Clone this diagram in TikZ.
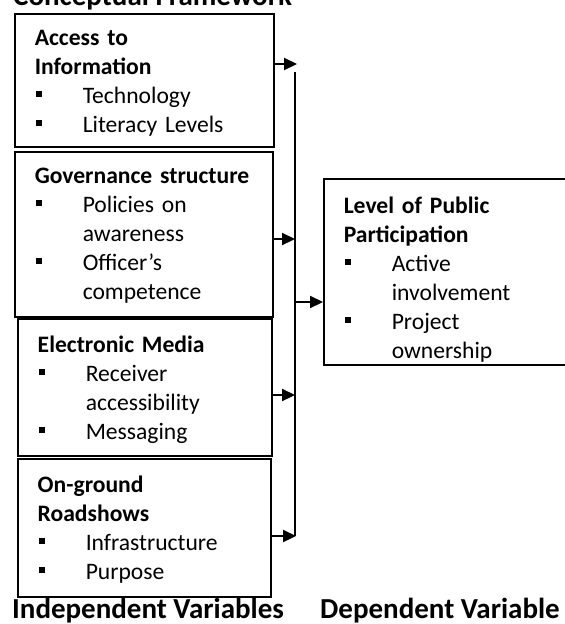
\documentclass[tikz,border=0pt]{standalone}
\usepackage{fontspec}
\setmainfont{Carlito}
\usetikzlibrary{arrows.meta, positioning}

% square bullet with a hanging indent for wrapped items
\newcommand{\bitem}[1]{\par\hangindent=48pt\hangafter=1\noindent\makebox[48pt][l]{\hspace{1pt}\rule[6.5pt]{6pt}{6pt}}#1\par}

\begin{document}
\begin{tikzpicture}[x=1pt, y=-1pt,
    varbox/.style={draw, line width=1.5pt, anchor=north west, align=left,
        inner xsep=20pt, inner ysep=0pt, text height=32pt,
        font=\fontsize{23.6pt}{29pt}\selectfont},
    link/.style={line width=2.2pt, -{Triangle[length=13pt, width=12pt]}},
    heading/.style={anchor=base west, inner sep=0pt,
        font=\fontsize{29pt}{35pt}\selectfont\bfseries}]
    \useasboundingbox (0,0) rectangle (565,624);

    \node[heading] (title) at (13,5) {Conceptual Framework};

    % independent variables
    \node[varbox, text width=219pt, text depth=101pt] (access) at (14,13)
        {\textbf{Access to\newline Information}
         \bitem{Technology}
         \bitem{Literacy Levels}};
    \node[varbox, text width=218pt, text depth=133pt] (govern) at (14,151)
        {\textbf{Governance structure}
         \bitem{Policies on\newline awareness}
         \bitem{Officer’s\newline competence}};
    \node[varbox, text width=214pt, text depth=103pt, text height=34pt] (media) at (17,318)
        {\textbf{Electronic Media}
         \bitem{Receiver\newline accessibility}
         \bitem{Messaging}};
    \node[varbox, text width=213pt, text depth=104pt, text height=34pt] (road) at (17,458)
        {\textbf{On-ground\newline Roadshows}
         \bitem{Infrastructure}
         \bitem{Purpose}};

    % dependent variable
    \node[varbox, text width=203pt, text depth=151pt, text height=35pt] (public) at (323,178)
        {\textbf{Level of Public\newline Participation}
         \bitem{Active\newline involvement}
         \bitem{Project\newline ownership}};

    % collecting line
    \coordinate (bustop) at (295,72);
    \coordinate (busend) at (295,536);
    \draw[line width=2.2pt] (bustop) -- (busend);

    \draw[link] (access.east |- 0,64) -- ([xshift=2pt]bustop |- 0,64);
    \draw[link] (govern.east |- 0,239) -- (bustop |- 0,239);
    \draw[link] (media.east |- 0,395) -- (bustop |- 0,395);
    \draw[link] (road.east |- busend) -- ([xshift=1pt]busend);
    \draw[link] (bustop |- 0,302) -- (public.west |- 0,302);

    \node[heading] (indep) at (12,618) {Independent Variables};
    \node[heading] (dep) at (320,618) {Dependent Variable};
\end{tikzpicture}
\end{document}
